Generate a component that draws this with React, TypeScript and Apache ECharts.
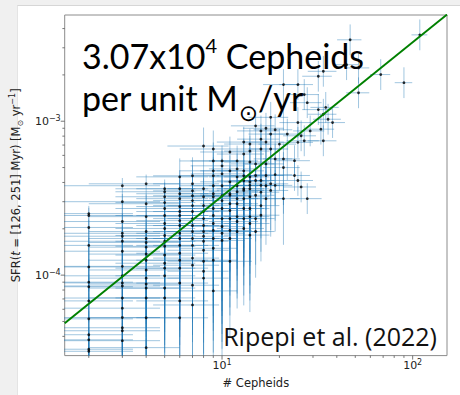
import React, { useEffect, useRef } from "react";
import * as echarts from "echarts";

// ---- axes (data units) ----
const X_MIN = 1.495;
const X_MAX = 151.4;
const Y_MIN = 3.0e-5;
const Y_MAX = 4.9e-3;

// fit annotation: 3.07x10^4 Cepheids per unit Msun/yr
const CEPHEIDS_PER_SFR = 3.07e4;

// SFR values below are in units of 1e-4 Msun/yr
const SFR_UNIT = 1e-4;

// dense columns (integer Cepheid counts)
const columnN = [2, 3, 4, 5, 6, 7, 8, 9, 10, 11, 12, 13, 14];
const columnSFR: number[][] = [
  [2.51, 2.44, 2.04, 1.56, 1.13, 0.9, 0.84, 0.68, 0.52, 0.41, 0.38, 0.33, 0.32],
  [3.81, 3.0, 2.23, 1.87, 1.79, 1.66, 1.43, 1.14, 0.99, 0.89, 0.85, 0.71, 0.61, 0.53, 0.455, 0.435, 0.375],
  [3.92, 2.91, 2.4, 1.92, 1.73, 1.63, 1.52, 1.37, 1.25, 1.08, 0.956, 0.875, 0.824, 0.711, 0.528, 0.338],
  [3.64, 3.48, 3.23, 2.96, 2.71, 2.44, 2.165, 2.01, 1.81, 1.66, 1.54, 1.35, 1.195, 1.11, 0.99, 0.824, 0.711],
  [4.35, 3.64, 3.38, 3.14, 2.79, 2.59, 2.44, 2.26, 2.1, 1.87, 1.73, 1.56, 1.387, 1.25, 1.11, 0.888, 0.68, 0.528],
  [4.42, 3.92, 3.53, 3.28, 3.05, 2.83, 2.59, 2.33, 2.1, 1.92, 1.73, 1.56, 1.29, 1.16, 0.86, 0.64],
  [6.9, 3.64, 3.23, 2.83, 2.59, 2.33, 2.1, 1.92, 1.79, 1.66, 1.45, 1.23, 1.06, 0.956],
  [6.6, 5.52, 4.76, 4.42, 3.81, 3.38, 3.23, 2.71, 2.44, 2.165, 1.95, 1.73, 1.494, 1.25, 0.79],
  [5.52, 5.13, 4.55, 3.81, 3.28, 3.05, 2.71, 2.33, 2.07, 1.87, 1.68],
  [6.31, 4.76, 4.04, 3.38, 3.3, 2.91, 2.63, 2.33, 1.95, 1.73, 1.23],
  [5.52, 4.9, 4.35, 3.81, 3.48, 3.14, 2.91, 2.4, 2.23, 1.92],
  [7.32, 6.12, 4.76, 4.42, 4.1, 3.64, 3.55, 3.14, 2.71, 2.33, 2.01],
  [7.11, 6.4, 5.43, 4.35, 4.04, 3.83, 3.64, 3.23, 2.71, 2.4, 2.165, 1.82],
];

// sparse points: [N, SFR / 1e-4]
const sparsePoints: [number, number][] = [
  [15, 9.33], [15, 5.28], [15, 4.44], [15, 4.12], [15, 3.3], [15, 2.33], [15, 1.92],
  [16, 8.65], [16, 7.65], [16, 6.6], [16, 4.12], [16, 3.83], [16, 3.46], [16, 2.83], [16, 2.45],
  [17, 9.0], [17, 7.32], [17, 5.28], [17, 4.44], [17, 3.81], [17, 3.14],
  [18, 10.6], [18, 8.25], [18, 6.6], [18, 3.92], [18, 3.55],
  [19, 8.8], [19, 5.69], [19, 4.5], [19, 3.83],
  [20, 7.1],
  [21, 17.3], [21, 5.69], [21, 5.0], [21, 3.14],
  [22, 8.25],
  [24, 5.54], [24, 4.44],
  [25, 17.3], [25, 9.8], [25, 7.29], [25, 4.12],
  [26, 8.04], [26, 3.74],
  [27, 14.9], [27, 7.46],
  [28, 13.2], [28, 3.14],
  [29, 8.65],
  [32, 19.6], [32, 11.9],
  [33, 8.88],
  [34, 21.1], [34, 11.1], [34, 7.46],
  [35, 12.3],
  [36, 10.3],
  [38, 9.8],
  [45, 23.3],
  [47, 33.8],
  [52, 22.2], [52, 15.3],
  [68, 20.1],
  [90, 17.8],
  [109, 36.4],
];

// horizontal (count) error, read per N: [N, err]
const xErrByN: [number, number][] = [
  [2, 1.41], [3, 1.73], [4, 2.0], [5, 2.24], [6, 2.45], [7, 2.65], [8, 2.83], [9, 3.0],
  [10, 3.16], [11, 3.32], [12, 3.46], [13, 3.61], [14, 3.74], [15, 3.87], [16, 4.0],
  [17, 4.12], [18, 4.24], [19, 4.36], [20, 4.47], [21, 4.58], [22, 4.69], [24, 4.9],
  [25, 5.0], [26, 5.1], [27, 5.2], [28, 5.29], [29, 5.39], [32, 5.66], [33, 5.74],
  [34, 5.83], [35, 5.92], [36, 6.0], [38, 6.16], [45, 6.71], [47, 6.86], [52, 7.21],
  [68, 8.25], [90, 9.49], [109, 10.4],
];

// vertical (SFR) error bands, in dex: up to N -> [up, down]
const yErrMaxN = [3, 5, 7, 9, 10, 14, 22, 1000];
const yErrUpDex = [0.05, 0.06, 0.12, 0.12, 0.1, 0.1, 0.1, 0.1];
const yErrDownDex = [0.5, 0.5, 0.5, 0.6, 0.75, 0.5, 0.3, 0.1];

// tick values
const xMajorTicks = [10, 100];
const xMinorTicks = [2, 3, 4, 5, 6, 7, 8, 9, 20, 30, 40, 50, 60, 70, 80, 90];
const yMajorTicks = [1e-4, 1e-3];
const yMinorTicks = [4e-5, 5e-5, 6e-5, 7e-5, 8e-5, 9e-5, 2e-4, 3e-4, 4e-4, 5e-4, 6e-4, 7e-4, 8e-4, 9e-4, 2e-3, 3e-3, 4e-3];

const BAR_COLOR = "rgba(31,119,180,0.42)";
const TEXT_COLOR = "#222";

function buildPoints() {
  const pts: [number, number][] = [];
  columnN.forEach((n, i) => columnSFR[i].forEach((s) => pts.push([n, s * SFR_UNIT])));
  sparsePoints.forEach(([n, s]) => pts.push([n, s * SFR_UNIT]));
  return pts;
}

function errRow(n: number, s: number) {
  const xe = (xErrByN.find((r) => r[0] === n) || [n, 0])[1];
  let b = yErrMaxN.findIndex((m) => n <= m);
  if (b < 0) b = yErrMaxN.length - 1;
  return [n, s, n - xe, n + xe, s * Math.pow(10, -yErrDownDex[b]), s * Math.pow(10, yErrUpDex[b])];
}

function powLabel(v: number) {
  const e = Math.log10(v);
  const r = Math.round(e);
  if (Math.abs(e - r) > 1e-6) return "";
  return `{b|10}{p|${r < 0 ? "\u2212" + -r : r}}`;
}

const tickRich = {
  b: { fontFamily: "DejaVu Sans", fontSize: 11, lineHeight: 14, color: TEXT_COLOR },
  p: { fontFamily: "DejaVu Sans", fontSize: 8, lineHeight: 6, verticalAlign: "top", color: TEXT_COLOR },
};

function tickSeries(ticks: number[], axis: "x" | "y", len: number) {
  return {
    type: "custom",
    silent: true,
    clip: false,
    z: 6,
    data: ticks.map((v) => (axis === "x" ? [v, Y_MIN] : [X_MIN, v])),
    renderItem: (_p: any, api: any) => {
      const p = api.coord([api.value(0), api.value(1)]);
      const shape =
        axis === "x"
          ? { x1: p[0], y1: p[1], x2: p[0], y2: p[1] + len }
          : { x1: p[0], y1: p[1], x2: p[0] - len, y2: p[1] };
      return { type: "line", shape, style: { stroke: "#555", lineWidth: 0.8 } };
    },
  };
}

const bigFont = { fontFamily: "Lato", fontSize: 34, fill: "#000" };

export default function App() {
  const ref = useRef<HTMLDivElement>(null);
  useEffect(() => {
    if (!ref.current) return;
    const chart = echarts.init(ref.current, undefined, { renderer: "svg" });
    const points = buildPoints();
    const errData = points.map(([n, s]) => errRow(n, s));
    const option: any = {
      animation: false,
      grid: {
        left: 62, right: 13, top: 15, bottom: 37,
        show: true, borderColor: "#8c8c8c", borderWidth: 1, backgroundColor: "transparent",
      },
      xAxis: {
        type: "log", logBase: 10, min: X_MIN, max: X_MAX,
        axisLine: { show: false }, axisTick: { show: false }, splitLine: { show: false },
        axisLabel: { formatter: powLabel, rich: tickRich, margin: 3, showMinLabel: true, showMaxLabel: true },
        name: "# Cepheids", nameLocation: "middle", nameGap: 14,
        nameTextStyle: { fontFamily: "DejaVu Sans", fontSize: 11.5, color: TEXT_COLOR, lineHeight: 14 },
      },
      yAxis: {
        type: "log", logBase: 10, min: Y_MIN, max: Y_MAX,
        axisLine: { show: false }, axisTick: { show: false }, splitLine: { show: false },
        axisLabel: { formatter: powLabel, rich: tickRich, margin: 4 },
        name: "SFR({i|t} = [126, 251] Myr) [M{sub|\u2299} yr{sup|\u22121}]",
        nameLocation: "middle", nameRotate: 90, nameGap: 25,
        nameTextStyle: {
          fontFamily: "DejaVu Sans", fontSize: 11.5, color: TEXT_COLOR, lineHeight: 16,
          rich: {
            i: { fontFamily: "DejaVu Sans", fontStyle: "italic", fontSize: 11.5, lineHeight: 16, color: TEXT_COLOR },
            sub: { fontFamily: "DejaVu Sans", fontSize: 8, lineHeight: 4, verticalAlign: "bottom", color: TEXT_COLOR },
            sup: { fontFamily: "DejaVu Sans", fontSize: 8, lineHeight: 6, verticalAlign: "top", color: TEXT_COLOR },
          },
        },
      },
      series: [
        {
          type: "custom",
          silent: true,
          clip: true,
          z: 2,
          data: errData,
          renderItem: (_p: any, api: any) => {
            const n = api.value(0), s = api.value(1);
            const a = api.coord([api.value(2), s]);
            const b = api.coord([api.value(3), s]);
            const c = api.coord([n, api.value(4)]);
            const d = api.coord([n, api.value(5)]);
            const st = { stroke: BAR_COLOR, lineWidth: 1 };
            return {
              type: "group",
              children: [
                { type: "line", shape: { x1: a[0], y1: a[1], x2: b[0], y2: b[1] }, style: st },
                { type: "line", shape: { x1: c[0], y1: c[1], x2: d[0], y2: d[1] }, style: st },
              ],
            };
          },
        },
        {
          type: "scatter",
          z: 3,
          silent: true,
          symbol: "circle",
          symbolSize: 2.8,
          itemStyle: { color: "#000" },
          data: points,
        },
        {
          type: "line",
          z: 4,
          silent: true,
          symbol: "none",
          lineStyle: { color: "#008000", width: 2 },
          data: [
            [X_MIN, X_MIN / CEPHEIDS_PER_SFR],
            [X_MAX, X_MAX / CEPHEIDS_PER_SFR],
          ],
        },
        tickSeries(xMajorTicks, "x", 4),
        tickSeries(xMinorTicks, "x", 2.3),
        tickSeries(yMajorTicks, "y", 4),
        tickSeries(yMinorTicks, "y", 2.3),
      ],
      graphic: [
        {
          type: "text", x: 82, y: 55, z: 100,
          style: {
            text: "{a|3.07x10}{s|4}{a| Cepheids}",
            align: "left", verticalAlign: "middle",
            rich: {
              a: { fontFamily: "Lato", fontSize: 34, lineHeight: 40, fill: "#000" },
              s: { fontFamily: "Lato", fontSize: 20, lineHeight: 26, verticalAlign: "top", fill: "#000" },
            },
          },
        },
        {
          type: "text", x: 82, y: 97, z: 100,
          style: { text: "per unit M", ...bigFont, align: "left", verticalAlign: "middle" },
        },
        {
          type: "text", x: 248.5, y: 113, z: 100,
          style: { text: "\u2299", fontFamily: "DejaVu Sans", fontSize: 23, fill: "#000", align: "center", verticalAlign: "middle" },
        },
        {
          type: "text", x: 258, y: 97, z: 100,
          style: { text: "/yr", ...bigFont, align: "left", verticalAlign: "middle" },
        },
        {
          type: "text", x: 437, y: 336, z: 100,
          style: {
            text: "Ripepi et al. (2022)",
            fontFamily: "Open Sans", fontSize: 25, fill: "#111",
            align: "right", verticalAlign: "middle",
          },
        },
      ],
    };
    chart.setOption(option);
    return () => chart.dispose();
  }, []);

  return (
    <div style={{ position: "absolute", left: 0, top: 0, width: 460, height: 395, background: "#f0f0f0", overflow: "hidden" }}>
      <div style={{ position: "absolute", left: 17, top: 5, right: 0, bottom: 0, background: "#fff", borderTop: "1px solid #d6d6d6", borderLeft: "1px solid #e4e4e4" }} />
      <div ref={ref} style={{ position: "absolute", left: 0, top: 0, width: 460, height: 395 }} />
    </div>
  );
}
